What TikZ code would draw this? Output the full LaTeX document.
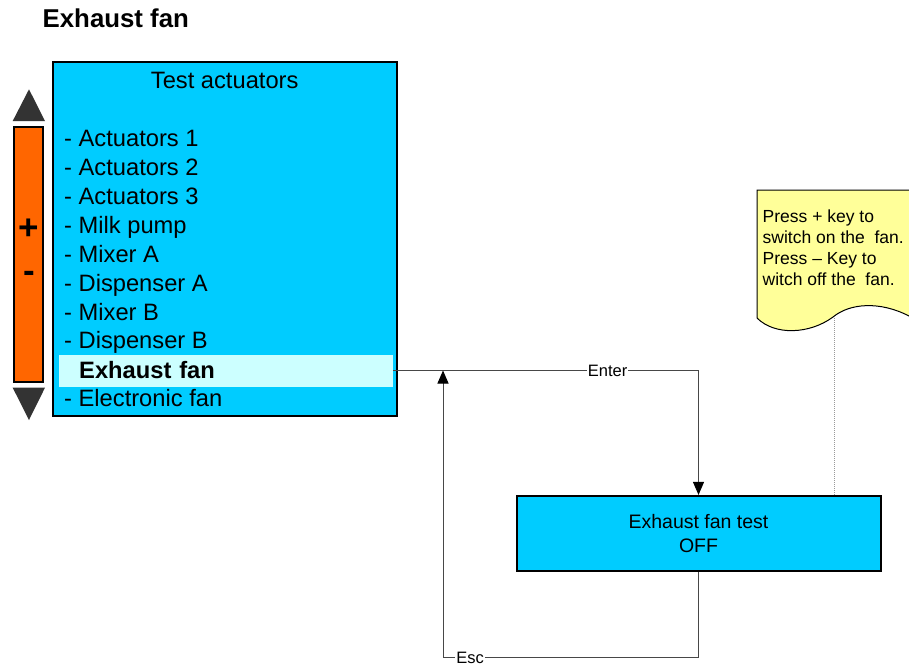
\documentclass[tikz,border=0pt]{standalone}
\usepackage{fontspec}
\setmainfont{Liberation Sans}
\usepackage{tikz}
\usetikzlibrary{arrows.meta}
\definecolor{panel}{RGB}{0,204,255}
\definecolor{rowsel}{RGB}{204,255,255}
\definecolor{scroll}{RGB}{255,102,0}
\definecolor{memo}{RGB}{255,255,153}
\definecolor{knob}{RGB}{51,51,51}
\tikzset{
  screen/.style={rectangle, draw=black, line width=2pt, fill=panel,
    minimum width=344pt, minimum height=354pt, inner sep=0pt},
  item/.style={anchor=base west, inner sep=0pt, font=\fontsize{23.7}{28}\selectfont},
  selrow/.style={rectangle, fill=rowsel, minimum width=334pt, minimum height=32pt,
    text width=294pt, inner xsep=20pt, inner ysep=0pt, align=left,
    font=\fontsize{23.7}{28}\selectfont\bfseries},
  scrollbar/.style={rectangle, draw=black, line width=2pt, fill=scroll,
    minimum width=29.6pt, minimum height=254.7pt, inner sep=0pt},
  sign/.style={inner sep=0pt, font=\fontsize{35}{36}\selectfont\bfseries},
  testbox/.style={rectangle, draw=black, line width=2pt, fill=panel,
    minimum width=364pt, minimum height=75pt, align=center,
    font=\fontsize{19.5}{24.6}\selectfont},
  memotext/.style={anchor=north west, align=left, inner sep=0pt,
    font=\fontsize{17.5}{21}\selectfont},
  conn/.style={-{Triangle[length=13pt, width=11pt, black]}, line width=1pt, color=black!72},
  hint/.style={line width=0.7pt, color=black!40, dash pattern=on 1pt off 1pt},
  lbl/.style={fill=white, text=black, inner xsep=1pt, inner ysep=0pt,
    font=\fontsize{16.5}{18}\selectfont}
}
\begin{document}
\begin{tikzpicture}[x=1pt, y=-1pt]
  \useasboundingbox (0,0) rectangle (909,667);
  \node[anchor=base, inner sep=0pt, font=\fontsize{25.8}{30}\selectfont\bfseries] (title)
    at (115.8,27.7) {Exhaust fan};
  % menu screen
  \node[screen] (menu) at (224.7,238.9) {};
  \node[item, anchor=base] (head) at (224.7,88.3) {Test actuators};
  \node[item] (act1) at (64,146.7) {- Actuators 1};
  \node[item] (act2) at (64,175.6) {- Actuators 2};
  \node[item] (act3) at (64,204.5) {- Actuators 3};
  \node[item] (milk) at (64,233.4) {- Milk pump};
  \node[item] (mixa) at (64,262.3) {- Mixer A};
  \node[item] (dispa) at (64,291.2) {- Dispenser A};
  \node[item] (mixb) at (64,320.0) {- Mixer B};
  \node[item] (dispb) at (64,348.9) {- Dispenser B};
  \node[selrow] (sel) at (226.2,370.5) {Exhaust fan};
  \node[item] (efan) at (64,406.7) {- Electronic fan};
  % scroll bar
  \fill[knob] (12.7,121) -- (29,89.3) -- (45,121) -- cycle;
  \node[scrollbar] (bar) at (28.5,254.3) {};
  \fill[knob] (12.7,387.7) -- (29,420) -- (45,387.7) -- cycle;
  \node[sign] (plus) at (28.3,229) {+};
  \node[sign] (minus) at (29.3,276.7) {-};
  % note
  \begin{scope}
    \clip (0,0) rectangle (909,667);
    \filldraw[fill=memo, draw=black, line width=1pt] (757,190) -- (913,190) -- (913,318)
      -- (909,316) .. controls (880,301) and (850,303) .. (833,317)
      .. controls (810,334) and (775,336) .. (757,318) -- cycle;
  \end{scope}
  \node[memotext] (memo) at (762.5,209.2)
    {Press + key to\\switch on the~ fan.\\Press -- Key to\\witch off the~ fan.};
  % test screen
  \node[testbox] (test) at (698.5,533.4) {Exhaust fan test\\OFF};
  \coordinate (memotip) at (834.3,318);
  \draw[hint] (memotip) -- (memotip |- test.north);
  % connectors
  \coordinate (turn) at (443,657.5);
  \coordinate (back) at (443,370.5);
  \draw[conn] (sel.east) -| node[lbl, pos=0.351]{Enter} (test.north);
  \draw[conn] (test.south) |- node[lbl, pos=0.947]{Esc} (turn) -- (back);
\end{tikzpicture}
\end{document}
